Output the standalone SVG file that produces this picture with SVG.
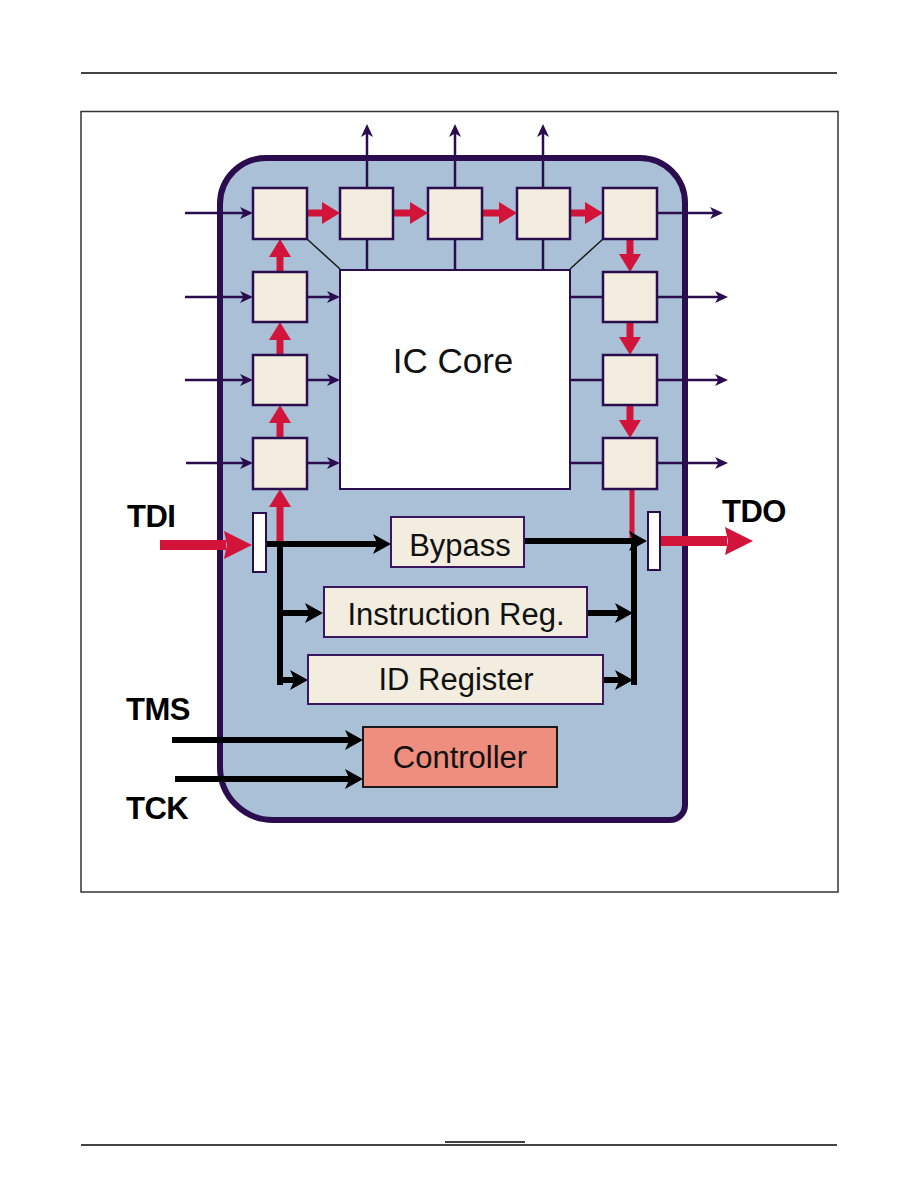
<svg xmlns="http://www.w3.org/2000/svg" width="918" height="1188" viewBox="0 0 918 1188">
<style>
.cell{fill:#f3ede0;stroke:#2b0d4f;stroke-width:2.5}
.reg{fill:#f3ede0;stroke:#3b1660;stroke-width:2}
.lbl{font-family:"Liberation Sans",Arial,sans-serif;font-size:31px;fill:#111;text-anchor:middle}
.big{font-size:35px}
.pin{font-family:"Liberation Sans",Arial,sans-serif;font-size:31px;font-weight:bold;fill:#000;letter-spacing:-0.5px}
.pl{stroke:#2b0d4f;stroke-width:2.5;fill:none}
.bl{stroke:#000;stroke-width:6;fill:none}
.rl{stroke:#d3143a;stroke-width:7;fill:none}
.rb{stroke:#d3143a;stroke-width:10;fill:none}
</style>
<defs>
<marker id="ap" markerUnits="userSpaceOnUse" markerWidth="14" markerHeight="12" refX="4" refY="6" orient="auto"><path d="M0,0 L13,6 L0,12 L3.5,6 z" fill="#2b0d4f"/></marker>
<marker id="ab" markerUnits="userSpaceOnUse" markerWidth="19" markerHeight="20" refX="5" refY="10" orient="auto"><path d="M0,0 L18,10 L0,20 L4.5,10 z" fill="#000"/></marker>
<marker id="ar" markerUnits="userSpaceOnUse" markerWidth="19" markerHeight="22" refX="1" refY="11" orient="auto"><path d="M0,0 L18,11 L0,22 z" fill="#d3143a"/></marker>
<marker id="arb" markerUnits="userSpaceOnUse" markerWidth="29" markerHeight="28" refX="2" refY="14" orient="auto"><path d="M0,0 L28,14 L0,28 L3,14 z" fill="#d3143a"/></marker>
</defs>
<rect width="918" height="1188" fill="#fff"/>
<line x1="81" y1="73" x2="837" y2="73" stroke="#444" stroke-width="2"/>
<rect x="81" y="111.5" width="757" height="780.5" fill="none" stroke="#333" stroke-width="1.5"/>
<line x1="81" y1="1145" x2="837" y2="1145" stroke="#444" stroke-width="2"/>
<line x1="445" y1="1142" x2="525" y2="1142" stroke="#000" stroke-width="1.5"/>

<g id="chip">
<path d="M266,158 H640 A45,45 0 0 1 685,203 V805 A15,15 0 0 1 670,820 H273 A53,53 0 0 1 220,767 V204 A46,46 0 0 1 266,158 Z" fill="#a9c0d6" stroke="#2b0d4f" stroke-width="6"/>
</g>

<g id="connectors">
<line class="pl" x1="367" y1="188" x2="367" y2="133" marker-end="url(#ap)" stroke-width="2"/>
<line class="pl" x1="367" y1="239" x2="367" y2="270" stroke-width="2"/>
<line class="pl" x1="455" y1="188" x2="455" y2="133" marker-end="url(#ap)" stroke-width="3"/>
<line class="pl" x1="455" y1="239" x2="455" y2="270" stroke-width="3"/>
<line class="pl" x1="543" y1="188" x2="543" y2="133" marker-end="url(#ap)" stroke-width="3"/>
<line class="pl" x1="543" y1="239" x2="543" y2="270" stroke-width="3"/>
<line x1="307" y1="239" x2="340" y2="269" stroke="#1a1a1a" stroke-width="1.5"/>
<line x1="603" y1="239" x2="570" y2="269" stroke="#1a1a1a" stroke-width="1.5"/>
<line class="pl" x1="185" y1="213" x2="244" y2="213" marker-end="url(#ap)"/>
<line class="pl" x1="185" y1="297" x2="244" y2="297" marker-end="url(#ap)" stroke-width="3.5"/>
<line class="pl" x1="185" y1="380" x2="244" y2="380" marker-end="url(#ap)"/>
<line class="pl" x1="186" y1="463" x2="244" y2="463" marker-end="url(#ap)"/>
<line class="pl" x1="307" y1="297" x2="331" y2="297" marker-end="url(#ap)"/>
<line class="pl" x1="307" y1="380" x2="331" y2="380" marker-end="url(#ap)"/>
<line class="pl" x1="307" y1="463" x2="331" y2="463" marker-end="url(#ap)"/>
<line class="pl" x1="570" y1="297" x2="603" y2="297"/>
<line class="pl" x1="570" y1="380" x2="603" y2="380"/>
<line class="pl" x1="570" y1="463" x2="603" y2="463"/>
<line class="pl" x1="657" y1="213" x2="714" y2="213" marker-end="url(#ap)"/>
<line class="pl" x1="657" y1="297" x2="719" y2="297" marker-end="url(#ap)"/>
<line class="pl" x1="657" y1="380" x2="719" y2="380" marker-end="url(#ap)"/>
<line class="pl" x1="657" y1="463" x2="719" y2="463" marker-end="url(#ap)"/>
<line class="rl" x1="307" y1="213" x2="323" y2="213" marker-end="url(#ar)"/>
<line class="rl" x1="393" y1="213" x2="411" y2="213" marker-end="url(#ar)"/>
<line class="rl" x1="482" y1="213" x2="500" y2="213" marker-end="url(#ar)"/>
<line class="rl" x1="570" y1="213" x2="586" y2="213" marker-end="url(#ar)"/>
<line class="rl" x1="630" y1="239" x2="630" y2="255" marker-end="url(#ar)"/>
<line class="rl" x1="630" y1="322" x2="630" y2="338" marker-end="url(#ar)"/>
<line class="rl" x1="630" y1="405" x2="630" y2="421" marker-end="url(#ar)"/>
<line class="rl" x1="280" y1="272" x2="280" y2="256" marker-end="url(#ar)"/>
<line class="rl" x1="280" y1="355" x2="280" y2="339" marker-end="url(#ar)"/>
<line class="rl" x1="280" y1="438" x2="280" y2="422" marker-end="url(#ar)"/>
<line class="rl" x1="280" y1="541" x2="280" y2="506" marker-end="url(#ar)"/>
<line x1="632" y1="489" x2="632" y2="541" stroke="#d3143a" stroke-width="5"/>
<line class="rb" x1="160" y1="545" x2="226" y2="545" marker-end="url(#arb)"/>
<line class="rb" x1="660" y1="541" x2="727" y2="541" marker-end="url(#arb)"/>
<line class="bl" x1="266" y1="544" x2="378" y2="544" marker-end="url(#ab)"/>
<line class="bl" x1="280" y1="544" x2="280" y2="685"/>
<line class="bl" x1="280" y1="613" x2="310" y2="613" marker-end="url(#ab)"/>
<line class="bl" x1="277" y1="680" x2="295" y2="680" marker-end="url(#ab)"/>
<line class="bl" x1="524" y1="541" x2="634" y2="541" marker-end="url(#ab)"/>
<line class="bl" x1="634" y1="541" x2="634" y2="685"/>
<line class="bl" x1="587" y1="613" x2="620" y2="613" marker-end="url(#ab)"/>
<line class="bl" x1="603" y1="680" x2="620" y2="680" marker-end="url(#ab)"/>
<line class="bl" x1="172" y1="740" x2="350" y2="740" marker-end="url(#ab)"/>
<line class="bl" x1="175" y1="779" x2="350" y2="779" marker-end="url(#ab)"/>
</g>

<g id="cells">
<rect class="cell" x="253" y="188" width="54" height="51"/>
<rect class="cell" x="340" y="188" width="53" height="51"/>
<rect class="cell" x="428" y="188" width="54" height="51"/>
<rect class="cell" x="517" y="188" width="53" height="51"/>
<rect class="cell" x="603" y="188" width="54" height="51"/>
<rect class="cell" x="253" y="272" width="54" height="50"/>
<rect class="cell" x="253" y="355" width="54" height="50"/>
<rect class="cell" x="253" y="438" width="54" height="51"/>
<rect class="cell" x="603" y="272" width="54" height="50"/>
<rect class="cell" x="603" y="355" width="54" height="50"/>
<rect class="cell" x="603" y="438" width="54" height="51"/>
</g>

<g id="core">
<rect x="340" y="270" width="230" height="219" fill="#fff" stroke="#2b0d4f" stroke-width="2"/>
<text class="lbl big" x="453" y="373">IC Core</text>
</g>

<g id="tdi-bar"><rect x="253" y="513" width="13" height="59" fill="#fff" stroke="#2b0d4f" stroke-width="2"/></g>
<g id="tdo-bar"><rect x="648" y="512" width="12" height="58" fill="#fff" stroke="#2b0d4f" stroke-width="2"/></g>

<g id="bypass">
<rect class="reg" x="391" y="517" width="133" height="50"/>
<text class="lbl" x="460" y="556">Bypass</text>
</g>
<g id="instruction-reg">
<rect class="reg" x="324" y="587" width="263" height="50"/>
<text class="lbl" x="456" y="625">Instruction Reg.</text>
</g>
<g id="id-register">
<rect class="reg" x="308" y="655" width="295" height="49"/>
<text class="lbl" x="456" y="690">ID Register</text>
</g>
<g id="controller">
<rect x="363" y="727" width="194" height="60" fill="#ee8e7e" stroke="#1a1a1a" stroke-width="2"/>
<text class="lbl" x="460" y="768">Controller</text>
</g>

<g id="pins">
<text class="pin" x="127" y="527">TDI</text>
<text class="pin" x="722" y="522">TDO</text>
<text class="pin" x="126" y="720">TMS</text>
<text class="pin" x="126" y="819">TCK</text>
</g>
</svg>
